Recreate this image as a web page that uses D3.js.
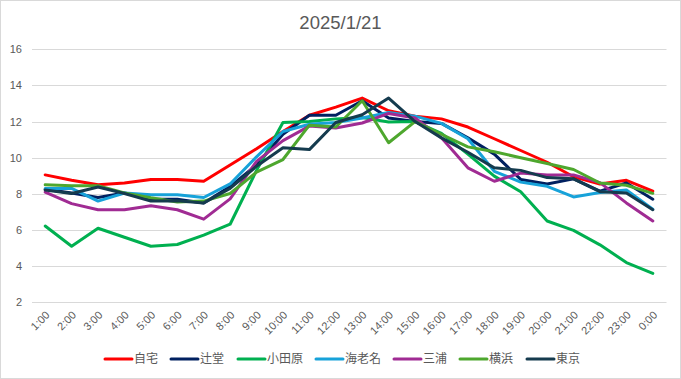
<!DOCTYPE html>
<html><head><meta charset="utf-8">
<script src="https://cdn.jsdelivr.net/npm/d3@7"></script>
<style>body{margin:0;background:#fff;}svg{display:block;font-family:"Liberation Sans",Arial,sans-serif;}</style>
</head><body><svg id="c" width="681" height="379"></svg>
<script>
const hours = ["1:00","2:00","3:00","4:00","5:00","6:00","7:00","8:00","9:00","10:00","11:00","12:00","13:00","14:00","15:00","16:00","17:00","18:00","19:00","20:00","21:00","22:00","23:00","0:00"];
const yTicks = [2,4,6,8,10,12,14,16];
const names = ["自宅","辻堂","小田原","海老名","三浦","横浜","東京"];
const jitaku   = [9.05,8.75,8.5,8.6,8.8,8.8,8.7,9.6,10.5,11.45,12.35,12.8,13.3,12.6,12.3,12.15,11.7,11.05,10.4,9.75,8.95,8.55,8.75,8.15];
const tsujido  = [8.25,8.05,7.8,8.05,7.7,7.7,7.5,8.4,9.6,11.3,12.35,12.35,13.15,12.2,12.0,11.9,11.1,10.2,8.8,8.55,8.83,8.15,8.6,7.7];
const odawara  = [6.22,5.1,6.1,5.6,5.1,5.2,5.72,6.32,9.3,11.95,12.0,12.15,12.22,11.98,12.0,11.35,10.2,8.98,8.12,6.5,5.98,5.18,4.2,3.6];
const ebina    = [8.3,8.3,7.6,8.05,7.95,7.95,7.8,8.55,10.05,11.45,11.85,11.95,12.2,12.5,12.3,11.9,11.05,9.25,8.65,8.42,7.83,8.08,8.22,7.15];
const miura    = [8.1,7.46,7.12,7.12,7.34,7.12,6.6,7.72,9.8,10.95,11.75,11.65,11.92,12.45,12.2,11.1,9.44,8.7,9.15,9.05,9.05,8.62,7.5,6.5];
const yokohama = [8.5,8.45,8.45,8.05,7.78,7.55,7.6,8.02,9.2,9.9,11.8,11.7,13.15,10.83,12.0,11.3,10.6,10.33,10.0,9.68,9.35,8.6,8.48,8.03];
const tokyo    = [8.22,8.02,8.38,8.02,7.6,7.62,7.5,8.3,9.53,10.55,10.45,11.95,12.38,13.3,12.0,11.1,10.3,9.44,9.3,8.9,8.83,8.12,8.05,7.12];
const seriesVals = [jitaku,tsujido,odawara,ebina,miura,yokohama,tokyo];
const colors = ["#FF0000","#002060","#00B050","#17A2D9","#A02B93","#4EA72E","#153B4E"];

const svg = d3.select("#c");
svg.append("rect").attr("x",0.5).attr("y",0.5).attr("width",680).attr("height",378).attr("fill","#fff").attr("stroke","#D9D9D9");

const x = d3.scalePoint().domain(hours).range([45.2,652.8]);
const y = d3.scaleLinear().domain([2,16]).range([302.3,49.3]);

svg.append("text").attr("x",340.5).attr("y",28.5).attr("text-anchor","middle")
  .attr("font-size",18.5).attr("fill","#595959").text("2025/1/21");

// grid
const g = svg.append("g");
g.selectAll("line.grid").data(yTicks).join("line")
  .attr("x1",32).attr("x2",666.5)
  .attr("y1",d=>Math.round(y(d))+0.5).attr("y2",d=>Math.round(y(d))+0.5)
  .attr("stroke","#D9D9D9").attr("stroke-width",1);

// y axis labels
const ya = svg.append("g").attr("transform","translate(22,0)")
  .call(d3.axisLeft(y).tickValues(yTicks).tickSize(0).tickPadding(0));
ya.select(".domain").remove();
ya.selectAll("text").attr("font-size",11).attr("fill","#595959").attr("font-family","Liberation Sans, Arial, sans-serif");

// x axis labels
const xa = svg.append("g").attr("transform","translate(0,308)")
  .call(d3.axisBottom(x).tickSize(0).tickPadding(0));
xa.select(".domain").remove();
xa.selectAll("text").attr("font-size",11).attr("fill","#595959")
  .attr("font-family","Liberation Sans, Arial, sans-serif")
  .attr("text-anchor","end").attr("dy","0.35em")
  .attr("transform","translate(2,5) rotate(-45)");

// lines
const line = d3.line().x((d,i)=>x(hours[i])).y(d=>y(d));
svg.append("g").selectAll("path").data(seriesVals).join("path")
  .attr("d",line).attr("fill","none")
  .attr("stroke",(d,i)=>colors[i]).attr("stroke-width",3)
  .attr("stroke-linejoin","round").attr("stroke-linecap","round");

// legend
const legX = [105,171,238,316,394,460,527];
const leg = svg.append("g").selectAll("g").data(names).join("g")
  .attr("transform",(d,i)=>`translate(${legX[i]},359)`);
leg.append("line").attr("x1",0).attr("x2",27).attr("y1",0).attr("y2",0)
  .attr("stroke",(d,i)=>colors[i]).attr("stroke-width",3).attr("stroke-linecap","round");
leg.append("text").attr("x",29).attr("y",0).attr("dy","0.36em")
  .attr("font-size",12).attr("fill","#595959")
  .attr("font-family","Noto Sans CJK JP, sans-serif").text(d=>d);
</script></body></html>
